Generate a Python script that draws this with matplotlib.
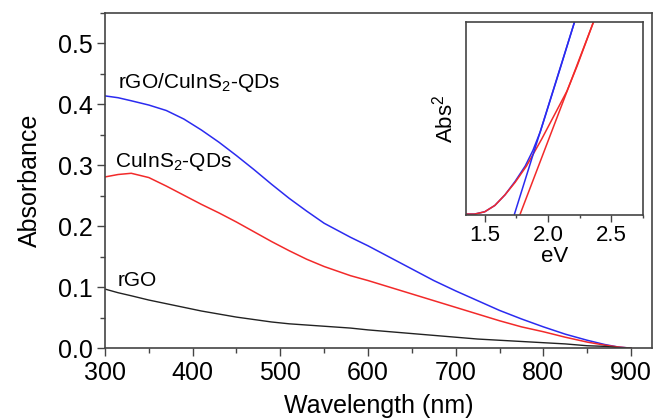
import matplotlib
matplotlib.use('Agg')
import matplotlib.pyplot as plt
from matplotlib.ticker import MultipleLocator, NullLocator, FormatStrFormatter

plt.rcParams['font.family'] = ['Liberation Sans', 'DejaVu Sans']
plt.rcParams['mathtext.default'] = 'regular'

# main spectra (wavelength in nm, absorbance)
wl = [300, 315, 330, 350, 370, 390, 410, 430, 450, 470, 490, 510, 530, 550, 580,
      600, 625, 650, 675, 700, 725, 750, 775, 800, 825, 850, 870, 885, 900]
abs_hybrid = [0.414, 0.411, 0.406, 0.399, 0.390, 0.376, 0.358, 0.338, 0.316, 0.293, 0.269,
              0.246, 0.225, 0.205, 0.182, 0.168, 0.149, 0.130, 0.111, 0.094, 0.078, 0.062,
              0.048, 0.035, 0.023, 0.013, 0.006, 0.002, 0.0]
abs_qds = [0.281, 0.285, 0.287, 0.280, 0.266, 0.251, 0.236, 0.222, 0.207, 0.191, 0.175,
           0.160, 0.146, 0.134, 0.119, 0.111, 0.100, 0.089, 0.078, 0.067, 0.056, 0.045,
           0.035, 0.027, 0.018, 0.010, 0.005, 0.002, 0.0]
abs_rgo = [0.097, 0.091, 0.086, 0.079, 0.073, 0.067, 0.061, 0.056, 0.051, 0.047, 0.043,
           0.040, 0.038, 0.036, 0.033, 0.030, 0.027, 0.024, 0.021, 0.018, 0.015, 0.013,
           0.011, 0.009, 0.007, 0.004, 0.003, 0.001, 0.0]

# inset: Tauc plot (eV vs Abs^2, arbitrary units)
ev_hybrid = [1.35, 1.42, 1.50, 1.58, 1.66, 1.74, 1.82, 1.88, 1.94, 2.00, 2.10, 2.21]
sq_hybrid = [0.0, 0.0, 0.012, 0.045, 0.10, 0.17, 0.25, 0.33, 0.43, 0.555, 0.765, 1.0]
ev_qds = [1.35, 1.42, 1.50, 1.58, 1.66, 1.74, 1.83, 1.95, 2.07, 2.15, 2.23, 2.36]
sq_qds = [0.0, 0.0, 0.012, 0.045, 0.10, 0.165, 0.25, 0.39, 0.54, 0.64, 0.77, 1.0]
fit_hybrid_ev = [1.735, 2.21]
fit_qds_ev = [1.78, 2.36]
fit_y = [0.0, 1.0]

blue = '#2b2bf0'
red = '#f22a2a'
dark = '#222222'

fig = plt.figure(figsize=(6.56, 4.20), dpi=100)
ax = fig.add_axes([0.160, 0.171, 0.834, 0.798])

ax.plot(wl, abs_hybrid, color=blue, lw=1.1)
ax.plot(wl, abs_qds, color=red, lw=1.1)
ax.plot(wl, abs_rgo, color=dark, lw=1.0)

ax.set_xlim(300, 924)
ax.set_ylim(0, 0.55)
ax.xaxis.set_major_locator(MultipleLocator(100))
ax.xaxis.set_minor_locator(MultipleLocator(50))
ax.yaxis.set_major_locator(MultipleLocator(0.1))
ax.yaxis.set_minor_locator(MultipleLocator(0.05))
ax.yaxis.set_major_formatter(FormatStrFormatter('%.1f'))
ax.tick_params(which='major', direction='out', length=6, width=1.0, labelsize=18, color='#444444', pad=3)
ax.tick_params(which='minor', direction='out', length=3.5, width=1.0, color='#444444')
ax.tick_params(top=False, right=False)
for s in ax.spines.values():
    s.set_color('#444444')
    s.set_linewidth(1.2)
ax.set_xlabel('Wavelength (nm)', fontsize=18, labelpad=7)
ax.set_ylabel('Absorbance', fontsize=18, labelpad=11)

ax.text(315, 0.436, 'rGO/CuInS$_2$-QDs', fontsize=15, va='center', ha='left')
ax.text(311, 0.306, 'CuInS$_2$-QDs', fontsize=15, va='center', ha='left')
ax.text(315, 0.111, 'rGO', fontsize=15, va='center', ha='left')

ins = fig.add_axes([0.710, 0.488, 0.270, 0.460])
ins.plot(ev_hybrid, sq_hybrid, color=blue, lw=1.1)
ins.plot(ev_qds, sq_qds, color=red, lw=1.1)
ins.plot(fit_hybrid_ev, fit_y, color=blue, lw=1.1)
ins.plot(fit_qds_ev, fit_y, color=red, lw=1.1)
ins.set_xlim(1.35, 2.75)
ins.set_ylim(-0.005, 1.0)
ins.xaxis.set_major_locator(MultipleLocator(0.5))
ins.xaxis.set_minor_locator(MultipleLocator(0.25))
ins.xaxis.set_major_formatter(FormatStrFormatter('%.1f'))
ins.yaxis.set_major_locator(NullLocator())
ins.tick_params(which='major', direction='out', length=5, width=1.0, labelsize=16, color='#444444', pad=2)
ins.tick_params(which='minor', direction='out', length=2.5, width=1.0, color='#444444')
for s in ins.spines.values():
    s.set_color('#444444')
    s.set_linewidth(1.2)
ins.set_xlabel('eV', fontsize=16, labelpad=0)
ins.set_ylabel('Abs$^2$', fontsize=16, labelpad=6)

fig.savefig('out.png', dpi=100)
